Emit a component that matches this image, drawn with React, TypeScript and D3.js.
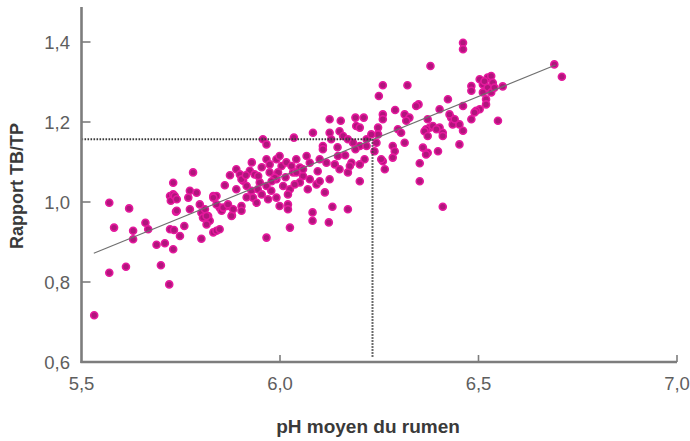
import React from "react";
import * as d3 from "d3";

// pH moyen du rumen (x) and Rapport TB/TP (y)
const phValues: number[] = [
  5.532, 5.570, 5.570, 5.582, 5.612, 5.620, 5.630, 5.630, 5.661, 5.668,
  5.689, 5.700, 5.710, 5.721, 5.723, 5.725, 5.731, 5.731, 5.738, 5.731,
  5.723, 5.733, 5.748, 5.759, 5.769, 5.773, 5.790, 5.798, 5.802, 5.806,
  5.802, 5.819, 5.823, 5.832, 5.840, 5.832, 5.840, 5.848, 5.853, 5.869,
  5.879, 5.890, 5.781, 5.773, 5.890, 5.735, 5.740, 5.740,
  6.035, 5.957, 5.966, 5.899, 5.924, 5.936, 5.966, 5.974, 5.991, 6.004,
  6.016, 6.033, 6.050, 6.058, 5.907, 5.916, 5.928, 5.949, 5.966, 5.978,
  5.991, 6.008, 6.025, 5.832, 5.840, 5.857, 5.869, 5.882, 5.811, 5.815,
  5.815, 5.878, 5.903, 5.903, 5.932, 5.941, 5.970, 5.991, 5.999, 6.020,
  6.020, 6.025, 5.966,
  6.083, 6.125, 6.129, 6.108, 6.150, 6.159, 6.171, 6.184, 6.201, 6.218,
  6.218, 6.243, 6.238, 6.314, 6.284, 6.289, 6.360, 6.372, 6.398, 6.259,
  6.264, 6.284, 6.352, 6.352, 6.201, 6.213, 6.180, 6.171, 6.146, 6.138,
  6.150, 6.108, 6.100, 6.117, 6.067, 6.075, 6.058, 6.041, 6.029, 5.999,
  5.995, 5.974, 5.987, 5.945, 5.903, 6.075, 6.092, 6.100, 6.125, 6.041,
  6.050, 6.020, 6.113, 6.410, 6.171, 6.132, 6.123, 6.082, 6.082, 5.848,
  6.259, 6.249, 6.321, 6.423, 6.349, 6.343, 6.290, 6.314, 6.326, 6.259,
  6.259, 6.125, 6.153, 6.190, 6.211, 6.192, 6.201, 6.247, 6.247, 6.372,
  6.377, 6.402, 6.402, 6.410, 6.297, 6.305, 6.379, 6.230, 6.255, 6.176,
  6.461, 6.461, 6.482, 6.482, 6.503, 6.511, 6.523, 6.532, 6.536, 6.523,
  6.511, 6.532, 6.519, 6.519, 6.540, 6.561, 6.461, 6.503, 6.494, 6.482,
  6.549, 6.318, 6.368, 6.431, 6.435, 6.452, 6.461, 6.385, 6.394, 6.410,
  6.364, 6.372, 6.452, 6.368, 6.691, 6.710, 6.515, 6.427, 6.440, 6.490,
  5.914, 5.944, 5.954, 5.979, 5.916, 6.014, 6.037, 5.954, 5.929, 6.070,
  6.095, 6.145, 6.190, 6.164, 6.201, 5.874, 5.861,
];

const ratioValues: number[] = [
  0.717, 0.998, 0.823, 0.936, 0.838, 0.984, 0.928, 0.907, 0.948, 0.932,
  0.893, 0.842, 0.897, 0.794, 1.015, 1.003, 1.019, 1.048, 0.976, 0.882,
  0.932, 0.930, 0.915, 0.940, 1.011, 0.982, 1.023, 0.994, 0.973, 0.961,
  0.908, 0.965, 0.953, 1.015, 1.015, 0.924, 0.928, 0.986, 0.978, 0.990,
  0.967, 1.032, 1.074, 1.028, 1.082, 1.015, 1.007, 0.978,
  1.161, 1.157, 1.144, 1.069, 1.078, 1.069, 1.107, 1.094, 1.107, 1.090,
  1.099, 1.074, 1.086, 1.065, 1.053, 1.040, 1.028, 1.049, 1.040, 1.028,
  1.057, 1.040, 1.032, 1.011, 0.994, 0.986, 0.994, 0.982, 0.982, 0.965,
  0.944, 0.965, 0.990, 0.978, 1.011, 0.998, 1.007, 1.011, 0.990, 0.994,
  0.982, 0.936, 0.911,
  1.173, 1.173, 1.157, 1.140, 1.177, 1.165, 1.157, 1.148, 1.140, 1.157,
  1.140, 1.148, 1.127, 1.148, 1.140, 1.127, 1.136, 1.123, 1.127, 1.102,
  1.082, 1.111, 1.097, 1.052, 1.052, 1.107, 1.098, 1.074, 1.115, 1.094,
  1.082, 1.132, 1.107, 1.098, 1.115, 1.098, 1.082, 1.107, 1.090, 1.115,
  1.074, 1.074, 1.061, 1.065, 1.057, 1.057, 1.044, 1.052, 1.057, 1.074,
  1.049, 1.019, 1.024, 0.988, 0.982, 0.988, 0.949, 0.974, 0.953, 0.932,
  1.292, 1.265, 1.292, 1.257, 1.244, 1.240, 1.230, 1.219, 1.211, 1.219,
  1.207, 1.207, 1.203, 1.211, 1.211, 1.190, 1.186, 1.186, 1.169, 1.207,
  1.186, 1.232, 1.186, 1.173, 1.182, 1.173, 1.340, 1.169, 1.107, 1.090,
  1.398, 1.382, 1.290, 1.278, 1.307, 1.294, 1.311, 1.315, 1.298, 1.286,
  1.274, 1.274, 1.257, 1.244, 1.286, 1.289, 1.240, 1.232, 1.228, 1.207,
  1.203, 1.203, 1.182, 1.211, 1.194, 1.194, 1.178, 1.190, 1.182, 1.165,
  1.177, 1.165, 1.144, 1.119, 1.344, 1.313, 1.302, 1.219, 1.207, 1.224,
  1.067, 1.032, 1.019, 1.052, 1.012, 1.062, 1.044, 1.087, 1.099, 1.032,
  1.077, 1.137, 1.132, 1.117, 1.094, 1.067, 1.042,
];

// regression line end points
const fitPh: number[] = [5.531, 6.694];
const fitRatio: number[] = [0.872, 1.3425];

// reference (threshold) lines
const refPh = 6.233;
const refRatio = 1.157;

const xTicks: number[] = [5.5, 6.0, 6.5, 7.0];
const yTicks: number[] = [0.6, 0.8, 1.0, 1.2, 1.4];

const xTitle = "pH moyen du rumen";
const yTitle = "Rapport TB/TP";

const W = 690;
const H = 441;

export default function App() {
  const x = d3.scaleLinear().domain([5.5, 7.0]).range([81.5, 677]);
  const y = d3.scaleLinear().domain([0.6, 1.4875]).range([362, 7]);
  const fmt = (v: number) => v.toFixed(1).replace(".", ",");

  const fitLine = d3
    .line<number>()
    .x((_, i) => x(fitPh[i]))
    .y((d) => y(d));

  const axisColor = "#7d7d7d";
  const font = "'Liberation Sans', Arial, sans-serif";
  const [yMin, yMax] = y.domain();
  const [xMin, xMax] = x.domain();

  return (
    <svg
      width={W}
      height={H}
      style={{ position: "absolute", left: 0, top: 0, background: "#fff" }}
    >
      {/* points */}
      <g>
        {phValues.map((p, i) => (
          <circle
            key={i}
            cx={x(p)}
            cy={y(ratioValues[i])}
            r={3.5}
            fill="#b0157c"
            stroke="#e4199d"
            strokeWidth={1.6}
          />
        ))}
      </g>

      {/* regression line */}
      <path
        d={fitLine(fitRatio) || ""}
        fill="none"
        stroke="#6f6f6f"
        strokeWidth={1.1}
      />

      {/* dotted reference lines */}
      <line
        x1={x(xMin)}
        x2={x(refPh)}
        y1={y(refRatio)}
        y2={y(refRatio)}
        stroke="#3a3a3a"
        strokeWidth={2}
        strokeDasharray="1.6 1.4"
      />
      <line
        x1={x(refPh)}
        x2={x(refPh)}
        y1={y(refRatio)}
        y2={y(yMin) - 5}
        stroke="#3a3a3a"
        strokeWidth={2}
        strokeDasharray="1.6 1.4"
      />

      {/* axes */}
      <line
        x1={x(xMin)}
        x2={x(xMin)}
        y1={y(yMax)}
        y2={y(yMin) + 1}
        stroke={axisColor}
        strokeWidth={2.6}
      />
      <line
        x1={x(xMin) - 1}
        x2={x(xMax)}
        y1={y(yMin)}
        y2={y(yMin)}
        stroke={axisColor}
        strokeWidth={2.6}
      />
      {yTicks.map((t) => (
        <g key={"yt" + t}>
          {t > yMin && (
            <line
              x1={x(xMin)}
              x2={x(xMin) + 9}
              y1={y(t)}
              y2={y(t)}
              stroke={axisColor}
              strokeWidth={1.6}
            />
          )}
          <text
            x={70}
            y={y(t)}
            dy="0.36em"
            textAnchor="end"
            fontFamily={font}
            fontSize={18.5}
            fill="#5e5e5e"
          >
            {fmt(t)}
          </text>
        </g>
      ))}
      {xTicks.map((t) => (
        <g key={"xt" + t}>
          {t > xMin && (
            <line
              x1={x(t)}
              x2={x(t)}
              y1={y(yMin)}
              y2={y(yMin) - 7}
              stroke={axisColor}
              strokeWidth={1.6}
            />
          )}
          <text
            x={x(t)}
            y={390}
            textAnchor="middle"
            fontFamily={font}
            fontSize={18.5}
            fill="#5e5e5e"
          >
            {fmt(t)}
          </text>
        </g>
      ))}

      {/* titles */}
      <text
        x={368}
        y={433}
        textAnchor="middle"
        fontFamily={font}
        fontSize={19}
        fontWeight="bold"
        fill="#3a3a3a"
      >
        {xTitle}
      </text>
      <text
        transform={`translate(23,${186}) rotate(-90)`}
        textAnchor="middle"
        fontFamily={font}
        fontSize={18}
        fontWeight="bold"
        fill="#3a3a3a"
      >
        {yTitle}
      </text>
    </svg>
  );
}
